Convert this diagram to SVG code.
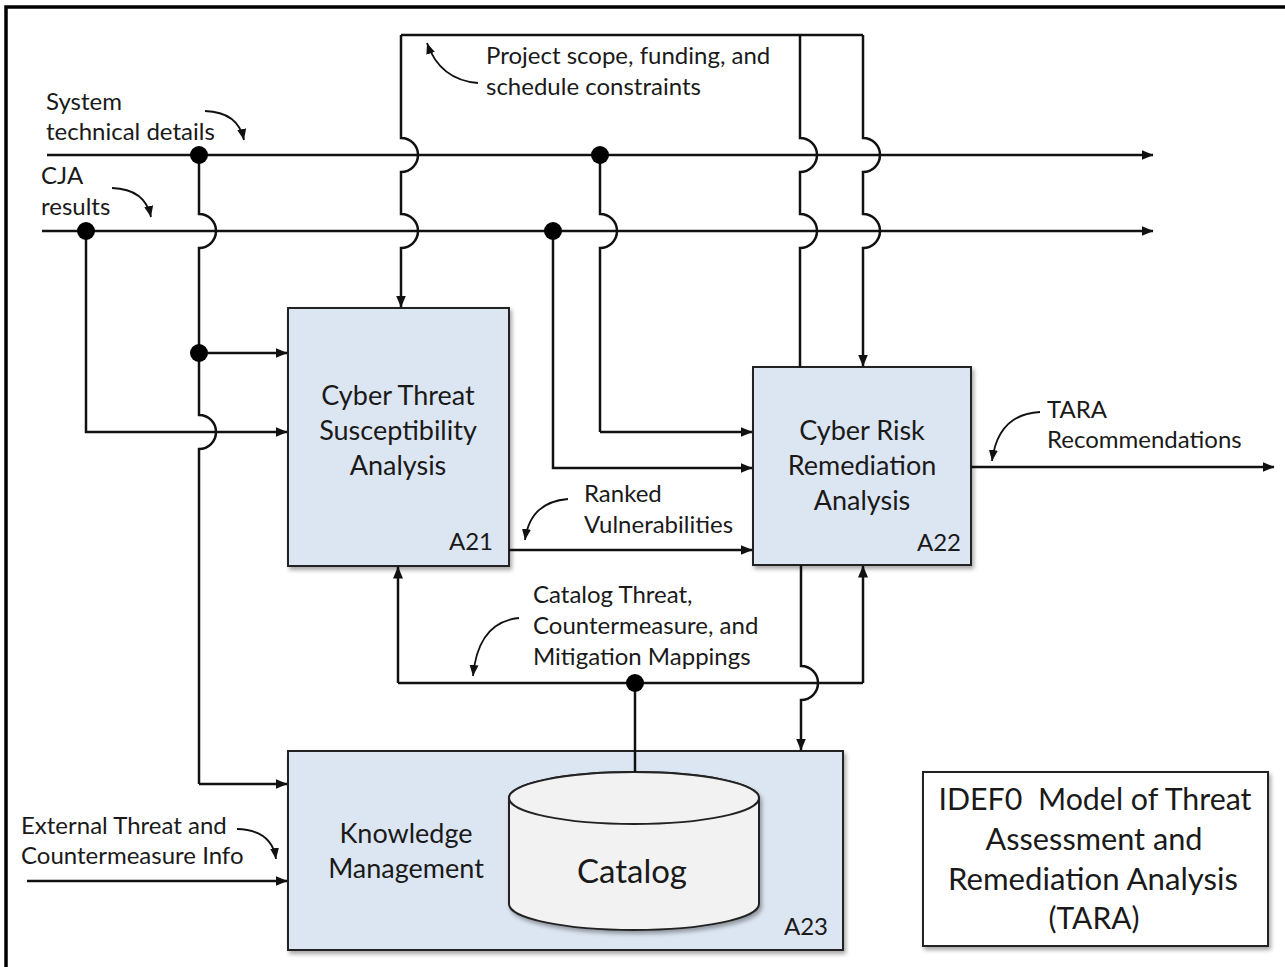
<svg xmlns="http://www.w3.org/2000/svg" width="1285" height="967" viewBox="0 0 1285 967">
  <style>
    .ln { fill: none; stroke: #111; stroke-width: 2.5; }
    .arr { marker-end: url(#ah); }
    .call { fill: none; stroke: #111; stroke-width: 1.8; marker-end: url(#ch); }
    .box { fill: #dce6f2; stroke: #222; stroke-width: 2; filter: url(#sh); }
    .dot { fill: #000; }
    .t { font-family: Lato, "Liberation Sans", sans-serif; fill: #1a1a1a; }
    .lbl { font-size: 24px; }
    .ttl { font-size: 27px; text-anchor: middle; }
    .code { font-size: 24px; text-anchor: end; }
  </style>
  <defs>
    <marker id="ah" markerUnits="userSpaceOnUse" viewBox="0 0 12 12" markerWidth="12" markerHeight="12" refX="11.5" refY="6" orient="auto">
      <path d="M0,1 L12,6 L0,11 Z" fill="#111"/>
    </marker>
    <marker id="ch" markerUnits="userSpaceOnUse" viewBox="0 0 12 12" markerWidth="12" markerHeight="12" refX="11" refY="6" orient="auto">
      <path d="M0,1.5 L11,6 L0,10.5 Z" fill="#111"/>
    </marker>
    <filter id="sh" x="-10%" y="-10%" width="125%" height="125%">
      <feDropShadow dx="2" dy="3" stdDeviation="2" flood-color="#000" flood-opacity="0.35"/>
    </filter>
  </defs>

  <rect width="1285" height="967" fill="#fff"/>
  <!-- outer frame -->
  <path d="M6,967 V7 H1285" fill="none" stroke="#000" stroke-width="3.5"/>

  <!-- activity boxes -->
  <g id="a21">
    <rect class="box" x="288" y="308" width="221" height="258"/>
    <text class="t ttl" x="398" y="405">Cyber Threat</text>
    <text class="t ttl" x="398" y="440">Susceptibility</text>
    <text class="t ttl" x="398" y="475">Analysis</text>
    <text class="t code" x="493" y="550">A21</text>
  </g>

  <g id="a22">
    <rect class="box" x="753" y="367" width="218" height="198"/>
    <text class="t ttl" x="862" y="440">Cyber Risk</text>
    <text class="t ttl" x="862" y="475">Remediation</text>
    <text class="t ttl" x="862" y="510">Analysis</text>
    <text class="t code" x="961" y="551">A22</text>
  </g>

  <g id="a23">
    <rect class="box" x="288" y="751" width="555" height="199"/>
    <text class="t ttl" x="406" y="843">Knowledge</text>
    <text class="t ttl" x="406" y="878">Management</text>
    <text class="t code" x="828" y="935">A23</text>
  </g>

  <g id="catalog">
    <path d="M509,798 V904 A125,26 0 0,0 759,904 V798 A125,26 0 0,0 509,798 Z" fill="#f2f2f2" stroke="#222" stroke-width="2" filter="url(#sh)"/>
    <ellipse cx="634" cy="798" rx="125" ry="26" fill="#f2f2f2" stroke="#222" stroke-width="2"/>
    <text class="t" x="632" y="883" font-size="33" text-anchor="middle">Catalog</text>
  </g>

  <g id="title">
    <rect x="923" y="772" width="345" height="174" fill="#fff" stroke="#222" stroke-width="2" filter="url(#sh)"/>
    <text class="t" x="1095" y="810" font-size="30" text-anchor="middle" textLength="313" lengthAdjust="spacingAndGlyphs" style="white-space:pre">IDEF0  Model of Threat</text>
    <text class="t" x="1094" y="850" font-size="30" text-anchor="middle" textLength="217" lengthAdjust="spacingAndGlyphs">Assessment and</text>
    <text class="t" x="1093" y="890" font-size="30" text-anchor="middle" textLength="290" lengthAdjust="spacingAndGlyphs">Remediation Analysis</text>
    <text class="t" x="1094" y="929" font-size="30" text-anchor="middle">(TARA)</text>
  </g>

  <!-- arrows between activities, with line hops at crossings -->
  <g id="connectors">
    <!-- boundary inputs passing through to the right -->
    <path class="ln arr" d="M47,155 H1153"/>
    <path class="ln arr" d="M42,231 H1153"/>

    <!-- system technical details branch -->
    <path class="ln" d="M199,155 V214 A17,17 0 0,1 199,248 V415 A17,17 0 0,1 199,449 V784"/>
    <path class="ln arr" d="M199,784 H287"/>
    <path class="ln arr" d="M199,353 H287"/>
    <path class="ln" d="M600,155 V214 A17,17 0 0,1 600,248 V432"/>
    <path class="ln arr" d="M600,432 H752"/>

    <!-- CJA results branch -->
    <path class="ln arr" d="M86,231 V432 H287"/>
    <path class="ln arr" d="M553,231 V468 H752"/>

    <!-- project constraints loop -->
    <path class="ln" d="M401,35 H863"/>
    <path class="ln arr" d="M401,35 V138 A17,17 0 0,1 401,172 V214 A17,17 0 0,1 401,248 V307"/>
    <path class="ln" d="M800,35 V138 A17,17 0 0,1 800,172 V214 A17,17 0 0,1 800,248 V367"/>
    <path class="ln arr" d="M863,35 V138 A17,17 0 0,1 863,172 V214 A17,17 0 0,1 863,248 V366"/>

    <!-- ranked vulnerabilities -->
    <path class="ln arr" d="M509,550 H752"/>

    <!-- TARA recommendations -->
    <path class="ln arr" d="M971,467 H1274"/>

    <!-- catalog mappings -->
    <path class="ln" d="M398,683 H863"/>
    <path class="ln arr" d="M398,683 V567"/>
    <path class="ln arr" d="M863,683 V566"/>
    <path class="ln" d="M635,683 V772"/>
    <path class="ln arr" d="M801,565 V666 A17,17 0 0,1 801,700 V750"/>

    <!-- external threat info -->
    <path class="ln arr" d="M27,881 H287"/>

    <!-- junction dots -->
    <circle class="dot" cx="199" cy="155" r="9"/>
    <circle class="dot" cx="86" cy="231" r="9"/>
    <circle class="dot" cx="600" cy="155" r="9"/>
    <circle class="dot" cx="553" cy="231" r="9"/>
    <circle class="dot" cx="199" cy="353" r="9"/>
    <circle class="dot" cx="635" cy="683" r="9"/>
  </g>

  <!-- arrow labels with their callout squiggles -->
  <g id="labels">
    <text class="t lbl" x="46" y="110">System</text>
    <text class="t lbl" x="46" y="140">technical details</text>
    <path class="call" d="M205,111 Q238,112 244,140"/>

    <text class="t lbl" x="41" y="184">CJA</text>
    <text class="t lbl" x="41" y="215">results</text>
    <path class="call" d="M112,188 Q145,189 151,217"/>

    <text class="t lbl" x="486" y="64">Project scope, funding, and</text>
    <text class="t lbl" x="486" y="95">schedule constraints</text>
    <path class="call" d="M478,83 Q440,80 427,43"/>

    <text class="t lbl" x="584" y="502">Ranked</text>
    <text class="t lbl" x="584" y="533">Vulnerabilities</text>
    <path class="call" d="M568,499 Q530,502 525,540"/>

    <text class="t lbl" x="533" y="603">Catalog Threat,</text>
    <text class="t lbl" x="533" y="634">Countermeasure, and</text>
    <text class="t lbl" x="533" y="665">Mitigation Mappings</text>
    <path class="call" d="M519,618 Q478,622 473,676"/>

    <text class="t lbl" x="1047" y="418">TARA</text>
    <text class="t lbl" x="1047" y="448">Recommendations</text>
    <path class="call" d="M1040,412 Q998,414 992,461"/>

    <text class="t lbl" x="21" y="834">External Threat and</text>
    <text class="t lbl" x="21" y="864">Countermeasure Info</text>
    <path class="call" d="M237,829 Q272,830 276,859"/>
  </g>
</svg>
